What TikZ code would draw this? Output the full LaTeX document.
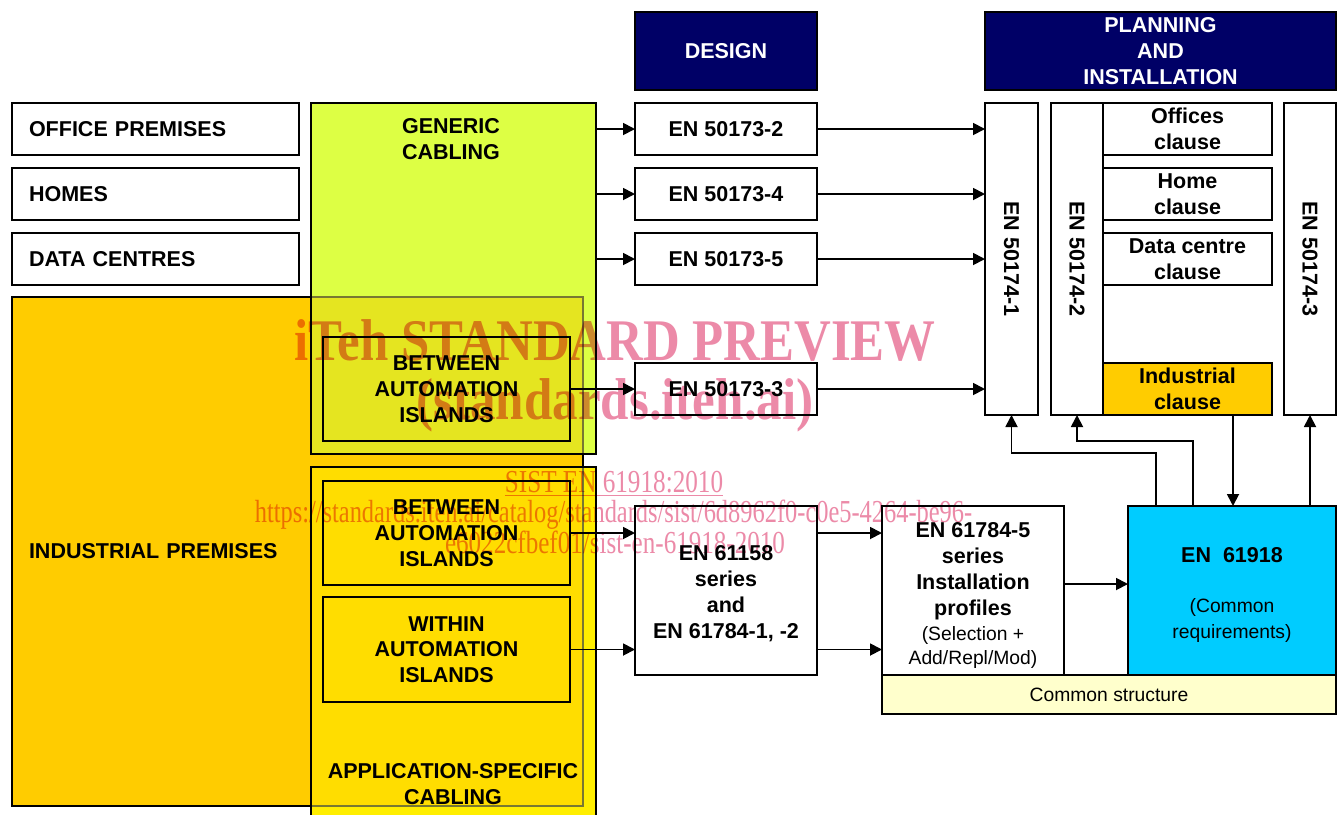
\documentclass[tikz,border=0pt]{standalone}
\usepackage{fontspec}
\setmainfont{Liberation Sans}
\newfontfamily\wmfont{Liberation Serif}
\usetikzlibrary{arrows.meta,calc}
\definecolor{navybox}{RGB}{0,0,102}
\definecolor{orangebox}{RGB}{255,204,0}
\definecolor{greenbox}{RGB}{221,255,68}
\definecolor{greenover}{RGB}{229,229,32}
\definecolor{yellowbox}{RGB}{255,238,0}
\definecolor{yellowover}{RGB}{255,221,0}
\definecolor{cyanbox}{RGB}{0,204,255}
\definecolor{creambox}{RGB}{255,255,204}
\definecolor{wmpink}{RGB}{236,138,168}
\definecolor{ghostline}{RGB}{120,120,50}
\newcommand\bigtxt{\fontsize{10.75}{12.9}\selectfont\bfseries}
\newcommand\smltxt{\fontsize{9.65}{12}\selectfont\mdseries}
\newcommand\wmbig{\wmfont\fontsize{29.5}{32}\selectfont\bfseries}
\newcommand\wmsml{\wmfont\fontsize{16}{18}\selectfont}
\begin{document}
\begin{tikzpicture}[x=0.5pt,y=-0.5pt,
  bb/.style args={#1/#2/#3/#4}{at={({(#1+#3)/2},{(#2+#4)/2})}, minimum width={(#3-#1)*0.5pt}, minimum height={(#4-#2)*0.5pt}},
  box/.style={draw=black, line width=0.9pt, fill=white, inner sep=0pt, outer sep=0pt, align=center, font=\bigtxt},
  hdr/.style={draw=black, line width=0.9pt, fill=navybox, text=white, inner sep=0pt, outer sep=0pt, align=center, font=\bigtxt},
  txt/.style={inner sep=0pt, align=center, font=\bigtxt},
  arr/.style={line width=0.9pt, -{Triangle[length=6pt,width=6pt]}},
  ghost/.style={draw=ghostline, line width=0.6pt},
  wm/.style={inner sep=0pt, text=wmpink, anchor=base}
]
\useasboundingbox (0,0) rectangle (1344,814);
\fill[white] (0,0) rectangle (1344,814);

% left premises boxes
\node[box, bb=12/103/299/155, text width=126.5pt, align=left] (office) {OFFICE PREMISES};
\node[box, bb=12/168/299/220, text width=126.5pt, align=left] (homes) {HOMES};
\node[box, bb=12/233/299/285, text width=126.5pt, align=left] (data) {DATA CENTRES};
\node[box, fill=orangebox, bb=12/297/583/806, text width=268.5pt, align=left] (ind) {INDUSTRIAL PREMISES};

% generic cabling (green)
\node[box, fill=greenbox, bb=311/103/596/454] (generic) {};
\fill[greenover] (311.9,297) rectangle (583,453.1);
\draw[ghost] (311.9,297) -- (583,297) -- (583,453.1);
\node[txt, anchor=north] (gentxt) at (451,118) {GENERIC\\CABLING};

% application-specific cabling (yellow)
\node[box, fill=yellowbox, bb=311/467/596/830] (appl) {};
\fill[yellowover] (311.9,467.9) rectangle (583,806);
\draw[ghost] (583,467.9) -- (583,806) -- (311.9,806);
\node[txt, anchor=north] (apptxt) at (453,763) {APPLICATION-SPECIFIC\\CABLING};

% inner boxes
\node[box, fill=none, bb=323/337/570/441] (bai1) {BETWEEN\\AUTOMATION\\ISLANDS};
\node[box, fill=none, bb=323/481/570/585] (bai2) {BETWEEN\\AUTOMATION\\ISLANDS};
\node[box, fill=none, bb=323/597/570/702] (wai) {WITHIN\\AUTOMATION\\ISLANDS};

% design column
\node[hdr, bb=635/12/817/90] (design) {DESIGN};
\node[box, bb=635/103/817/155] (d2) {EN 50173-2};
\node[box, bb=635/168/817/220] (d4) {EN 50173-4};
\node[box, bb=635/233/817/285] (d5) {EN 50173-5};
\node[box, bb=635/363/817/415] (d3) {EN 50173-3};
\node[box, bb=635/506/817/675] (e61158) {\rule{0pt}{10.7pt}EN 61158\\series\\and\\EN 61784-1, -2};

% planning column
\node[hdr, bb=985/12/1336/90] (plan) {PLANNING\\AND\\INSTALLATION};
\node[box, bb=985/103/1038/415] (p1) {\rotatebox{-90}{EN 50174-1}};
\node[box, bb=1051/103/1103/415] (p2) {\rotatebox{-90}{EN 50174-2}};
\node[box, bb=1284/103/1336/415] (p3) {\rotatebox{-90}{EN 50174-3}};
\node[box, bb=1103/103/1272/155] (offc) {Offices\\clause};
\node[box, bb=1103/168/1272/220] (homec) {Home\\clause};
\node[box, bb=1103/233/1272/285] (datac) {Data centre\\clause};
\node[box, fill=orangebox, bb=1103/363/1272/415] (indc) {Industrial\\clause};

% lower right
\node[box, bb=882/506/1064/675] (e61784) {\rule{0pt}{12.4pt}EN 61784-5\\series\\Installation\\profiles\\{\smltxt (Selection +}\\[-1.2pt]{\smltxt Add/Repl/Mod)}};
\node[box, fill=cyanbox, bb=1128/506/1336/675] (e61918) {\rule{0pt}{11.7pt}EN\ \ 61918\\[12.4pt]{\smltxt (Common}\\{\smltxt requirements)}};
\node[box, fill=creambox, font=\smltxt, bb=882/675/1336/714] (common) {Common structure};

% connectors
\draw[arr] (generic.east |- d2.west) -- (d2.west);
\draw[arr] (generic.east |- d4.west) -- (d4.west);
\draw[arr] (generic.east |- d5.west) -- (d5.west);
\draw[arr] (bai1.east) -- (d3.west |- bai1.east);
\draw[arr] (d2.east) -- (p1.west |- d2.east);
\draw[arr] (d4.east) -- (p1.west |- d4.east);
\draw[arr] (d5.east) -- (p1.west |- d5.east);
\draw[arr] (d3.east) -- (p1.west |- d3.east);
\draw[arr] (bai2.east) -- (e61158.west |- bai2.east);
\draw[arr] (wai.east) -- (e61158.west |- wai.east);
\draw[arr] (e61158.east |- bai2.east) -- (e61784.west |- bai2.east);
\draw[arr] (e61158.east |- wai.east) -- (e61784.west |- wai.east);
\draw[arr] (e61784.east |- 0,584) -- (e61918.west |- 0,584);
\draw[arr] (e61918.north -| 1156,0) |- (p1.south |- 0,453) -- (p1.south);
\draw[arr] (e61918.north -| 1193,0) |- (p2.south |- 0,441) -- (p2.south);
\draw[arr] (indc.south -| 1233,0) -- (e61918.north -| 1233,0);
\draw[arr] (e61918.north -| p3.south) -- (p3.south);

% watermark
\begin{scope}[blend mode=multiply]
\node[wm, font=\wmbig] (wm1) at (615,360) {\scalebox{0.862}[1]{iTeh STANDARD PREVIEW}};
\node[wm, font=\wmbig] (wm2) at (615,419) {\scalebox{0.865}[1]{(standards.iteh.ai)}};
\node[wm, font=\wmsml] (wm3) at (614,492) {\scalebox{0.787}[1]{\underline{SIST EN 61918:2010}}};
\node[wm, font=\wmsml] (wm4) at (613.5,522) {\scalebox{0.763}[1]{https://standards.iteh.ai/catalog/standards/sist/6d8962f0-c0e5-4264-be96-}};
\node[wm, font=\wmsml] (wm5) at (615,553) {\scalebox{0.784}[1]{e6022cfbef01/sist-en-61918-2010}};
\end{scope}
\end{tikzpicture}
\end{document}
